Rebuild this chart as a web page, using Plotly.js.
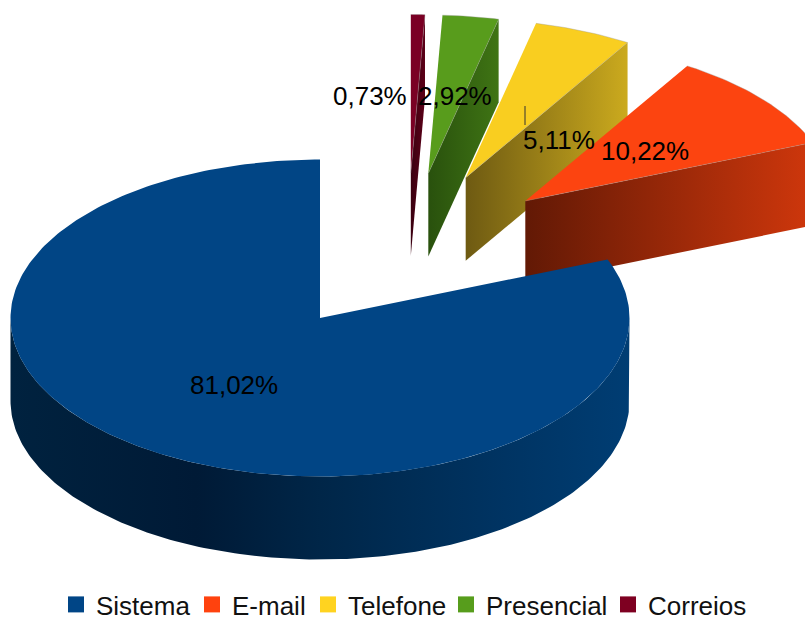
<!DOCTYPE html>
<html><head><meta charset="utf-8">
<script src="https://cdn.plot.ly/plotly-3.0.1.min.js"></script>
<style>html,body{margin:0;padding:0;background:#fff}#c{width:805px;height:621px}</style>
</head><body><div id="c"></div>
<script>
// --- data (counts give the printed percentages) ---
var categories = ["Sistema","E-mail","Telefone","Presencial","Correios"];
var counts = [111,14,7,4,1];
var legendColors = ["#004586","#ff420e","#ffd320","#579d1c","#7e0021"];
var faceColors = ["#014585","#fc4410","#f9ce20","#589c1c","#7a0024"];

// --- drawing geometry ---
var RX=309.5, RY=158.5, DEPTH=83;
var apexX = [320,525.3,465.7,428.3,410.8];
var apexY = [318,201,177.7,173.5,173];
var wallStops = [
  [[0,"#00223f"],[0.3,"#001a36"],[0.5,"#002648"],[0.8,"#003463"],[1,"#003d73"]],
  [[0,"#621905"],[1,"#cf370c"]],
  [[0,"#6e5a12"],[1,"#cbaa1e"]],
  [[0,"#29510d"],[1,"#3f7414"]],
  [[0,"#3a0010"],[1,"#5c0018"]]
];
var labelPos = [[233.5,385],[644.5,151],[558.5,140],[454.5,96],[369.5,96]];
var legendWidths = [91,71,93,117,95];

var total = counts.reduce(function(a,b){return a+b;},0);
var angle = 90, slices = [];
counts.forEach(function(c){
  var sweep = c/total*360;
  slices.push({a0:angle, a1:angle+sweep});
  angle += sweep;
});
function rad(d){return d*Math.PI/180;}
function arc(i,a0,a1,dy){
  var n=Math.max(4,Math.ceil(Math.abs(a1-a0))), xs=[], ys=[];
  for(var k=0;k<=n;k++){
    var a=rad(a0+(a1-a0)*k/n);
    xs.push(apexX[i]+RX*Math.cos(a)); ys.push(apexY[i]-RY*Math.sin(a)+dy);
  }
  return [xs,ys];
}
var traces=[];
function poly(xs,ys,color,grad,lw){
  var t={type:"scatter",mode:"lines",x:xs,y:ys,fill:"toself",line:{width:lw||0,color:"rgba(150,150,150,0.6)"},
    fillcolor:color,showlegend:false,hoverinfo:"skip"};
  if(grad){
    t.fillgradient={type:"horizontal",colorscale:grad,start:Math.min.apply(null,xs),stop:Math.max.apply(null,xs)};
  }
  traces.push(t);
}
// exploded slices, back to front, then the main slice
[4,3,2,1,0].forEach(function(i){
  var s=slices[i];
  if(i===0){
    var top=arc(0,180,360,0), bot=arc(0,360,180,DEPTH);
    poly(top[0].concat(bot[0]),top[1].concat(bot[1]),faceColors[0],wallStops[0]);
    var t0=arc(0,s.a0,s.a1,0);
    poly([apexX[0]].concat(t0[0]),[apexY[0]].concat(t0[1]),faceColors[0]);
  } else {
    // radial cut face seen from the front
    var a=rad(s.a0), ox=apexX[i]+RX*Math.cos(a), oy=apexY[i]-RY*Math.sin(a);
    poly([apexX[i],ox,ox,apexX[i]],[apexY[i],oy,oy+DEPTH,apexY[i]+DEPTH],faceColors[i],wallStops[i]);
    var t1=arc(i,s.a0,s.a1,0);
    poly([apexX[i]].concat(t1[0]),[apexY[i]].concat(t1[1]),faceColors[i],null,0.6);
  }
});
// legend carriers
categories.forEach(function(name,i){
  traces.push({type:"scatter",mode:"markers",x:[-50],y:[-50],name:name,legendwidth:legendWidths[i],
    marker:{symbol:"square",size:16,color:legendColors[i]},hoverinfo:"skip"});
});
var annotations=counts.map(function(c,i){
  return {xref:"x",yref:"y",x:labelPos[i][0],y:labelPos[i][1],showarrow:false,
    text:(c/total*100).toFixed(2).replace(".",",")+"%",
    font:{family:"Liberation Sans",size:26,color:"#000"},xanchor:"center",yanchor:"middle"};
});
var layout={width:805,height:621,margin:{l:0,r:0,t:0,b:0,autoexpand:false},paper_bgcolor:"#fff",plot_bgcolor:"#fff",
  xaxis:{range:[0,805],visible:false,fixedrange:true},
  yaxis:{range:[621,0],visible:false,fixedrange:true},
  shapes:[{type:"line",xref:"x",yref:"y",x0:525,x1:525,y0:106,y1:125,line:{color:"#333",width:1}}],
  annotations:annotations,
  legend:{orientation:"h",x:56/805,xanchor:"left",y:1-581/621,yanchor:"top",
    font:{family:"Liberation Sans",size:26,color:"#111"},bgcolor:"rgba(0,0,0,0)",traceorder:"normal"}
};
Plotly.newPlot("c",traces,layout,{staticPlot:true,displayModeBar:false});
</script></body></html>
